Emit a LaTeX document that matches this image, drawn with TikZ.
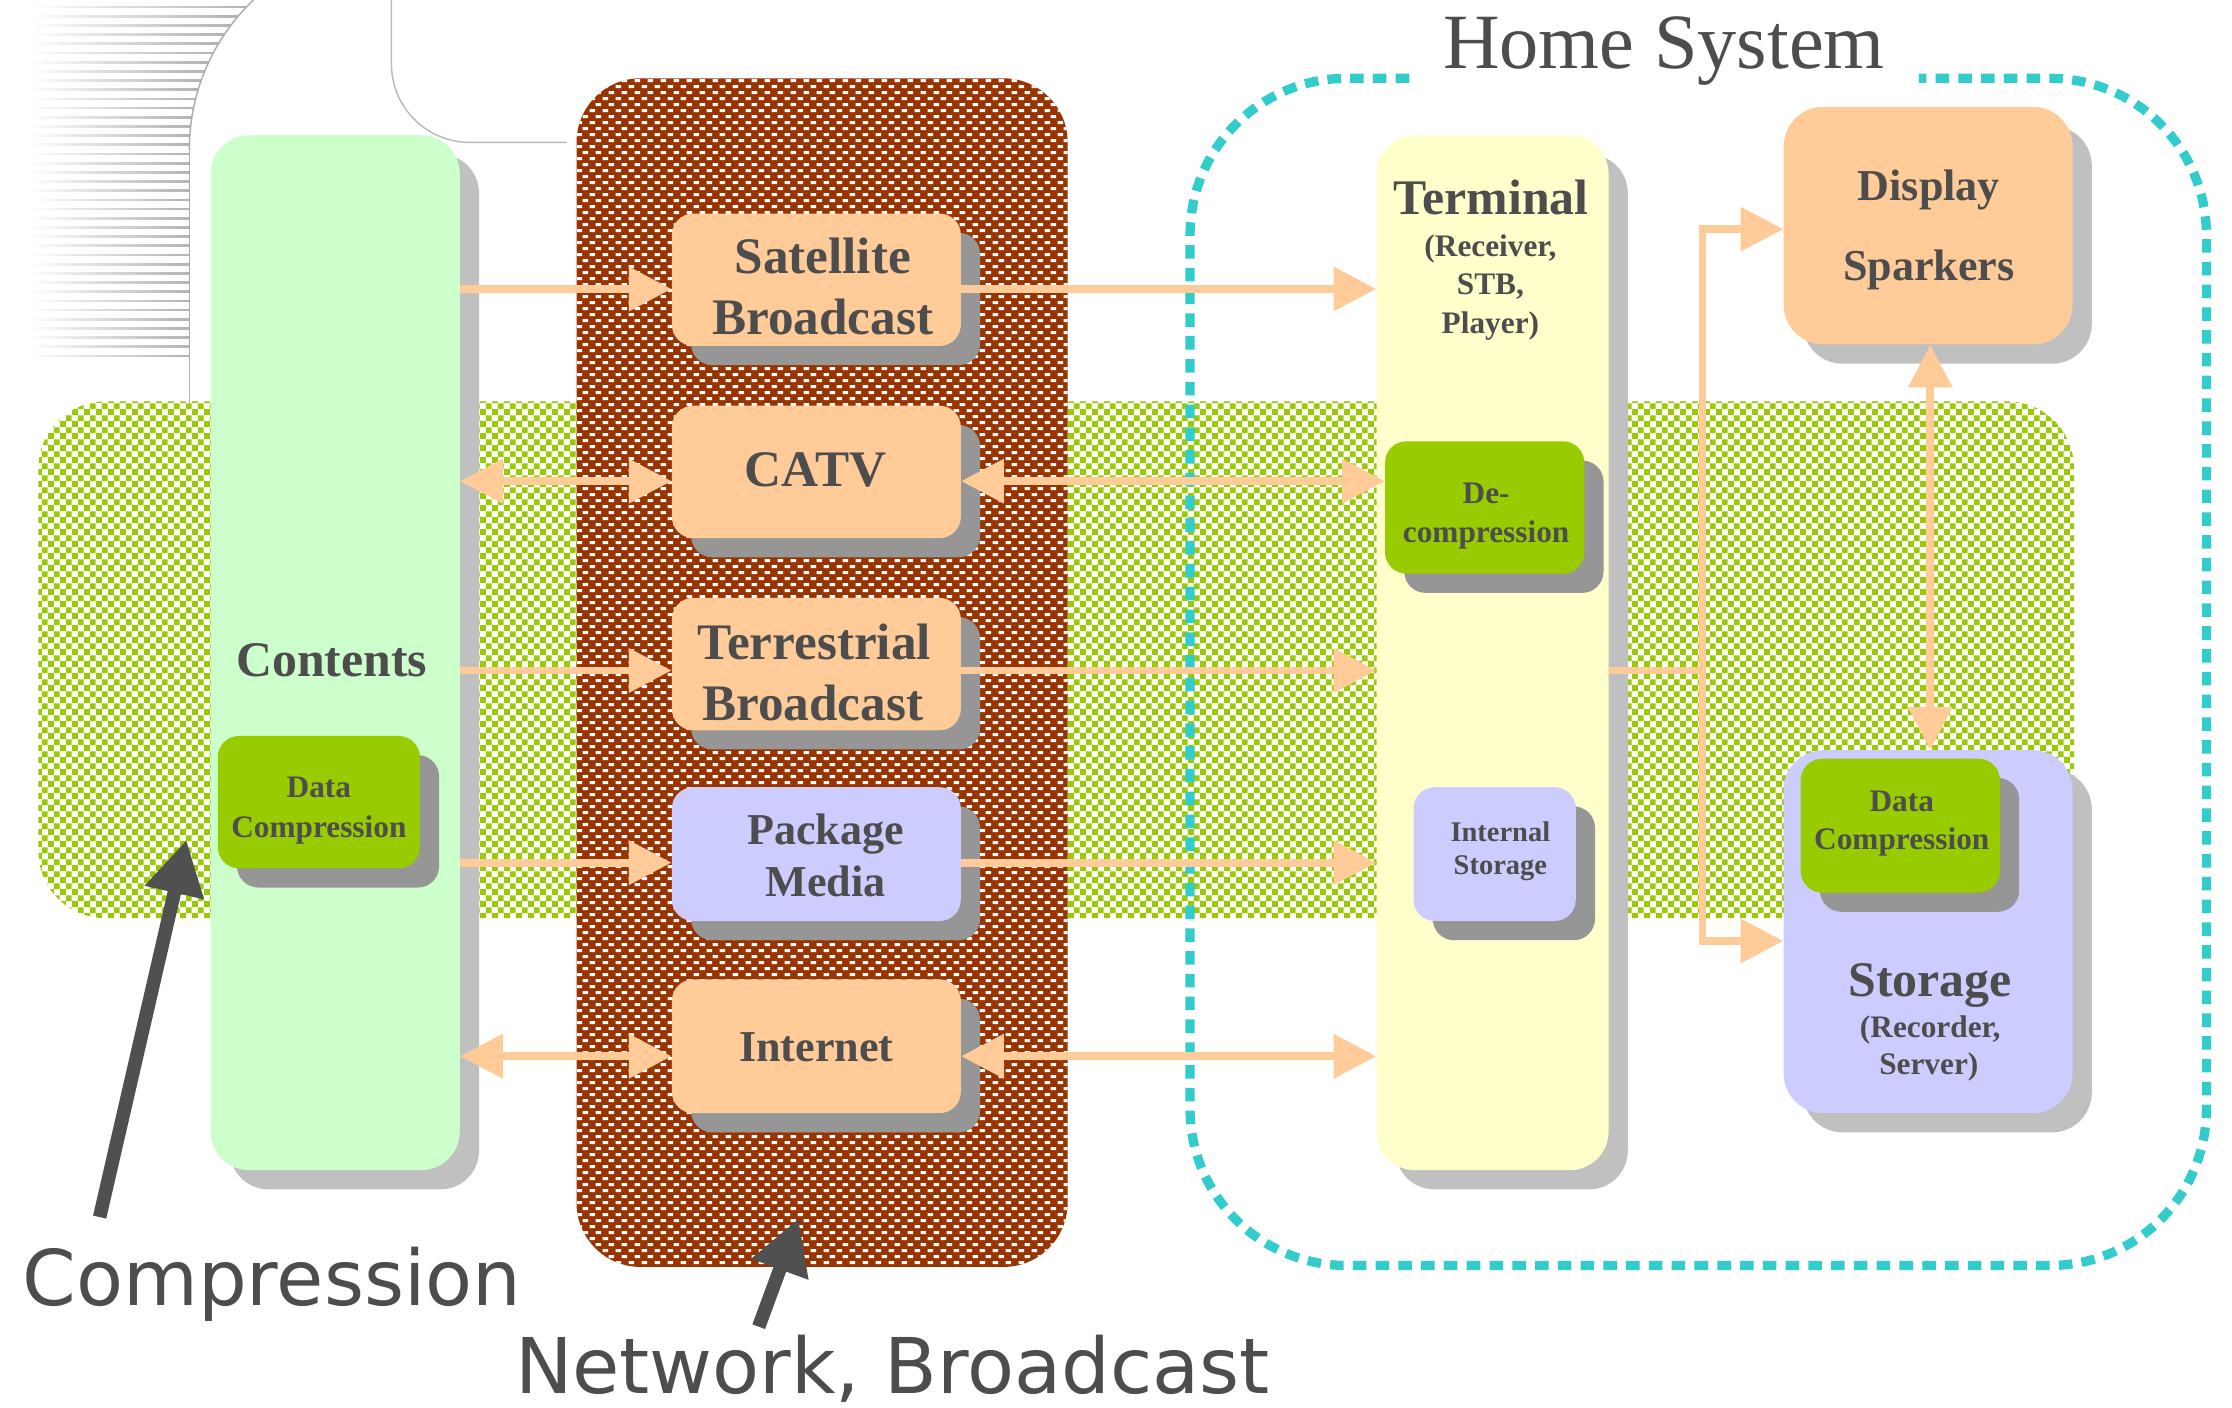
\documentclass[tikz,border=0pt]{standalone}
\usepackage{fontspec}
\setmainfont{Liberation Serif}
\newfontfamily\dejavu{DejaVu Sans}
\usetikzlibrary{arrows.meta,patterns,shadows}
\definecolor{orangebox}{HTML}{FFCC99}
\definecolor{lavbox}{HTML}{CCCCFF}
\definecolor{mintbox}{HTML}{CCFFCC}
\definecolor{creambox}{HTML}{FFFFCC}
\definecolor{limebox}{HTML}{99CC00}
\definecolor{brownbg}{HTML}{993300}
\definecolor{tealline}{HTML}{33CCCC}
\definecolor{txtgray}{HTML}{4D4D4D}
\definecolor{darkarrow}{HTML}{505050}
\definecolor{shadowlight}{HTML}{C0C0C0}
\definecolor{shadowdark}{HTML}{969696}
\pgfdeclarepatternformonly{whitedashes}{\pgfqpoint{0pt}{0pt}}{\pgfqpoint{8.8pt}{8.4pt}}{\pgfqpoint{8.8pt}{8.4pt}}{%
  \pgfpathrectangle{\pgfqpoint{0.4pt}{0.6pt}}{\pgfqpoint{4pt}{2.1pt}}%
  \pgfpathrectangle{\pgfqpoint{4.8pt}{4.8pt}}{\pgfqpoint{4pt}{2.1pt}}\pgfusepath{fill}}
\pgfdeclarepatternformonly{bigchecker}{\pgfqpoint{0pt}{0pt}}{\pgfqpoint{8.6pt}{8.6pt}}{\pgfqpoint{8.6pt}{8.6pt}}{%
  \pgfpathrectangle{\pgfqpoint{0pt}{0pt}}{\pgfqpoint{4.35pt}{4.35pt}}%
  \pgfpathrectangle{\pgfqpoint{4.3pt}{4.3pt}}{\pgfqpoint{4.35pt}{4.35pt}}\pgfusepath{fill}}
\newcommand\fntBig{\fontsize{36}{43}\selectfont\bfseries}
\newcommand\fntMid{\fontsize{31}{40}\selectfont\bfseries}
\newcommand\fntSub{\fontsize{22}{27}\selectfont\bfseries}
\newcommand\fntTiny{\fontsize{20}{24}\selectfont\bfseries}
\begin{document}
\begin{tikzpicture}[x=1pt,y=-1pt,
  bigbox/.style={rounded corners=27pt, inner sep=0pt, draw=none,
    drop shadow={shadow xshift=13.5pt, shadow yshift=-13.5pt, fill=shadowlight, opacity=1}},
  smallbox/.style={rounded corners=15pt, inner sep=0pt, draw=none,
    drop shadow={shadow xshift=13.5pt, shadow yshift=-13.5pt, fill=shadowdark, opacity=1}},
  txt/.style={text=txtgray, inner sep=0pt, anchor=base},
  oline/.style={draw=orangebox, line width=5.5pt},
  oarr/.style={oline, -{Triangle[length=30pt,width=30pt]}},
  oarrr/.style={oline, {Triangle[length=30pt,width=30pt]}-{Triangle[length=30pt,width=30pt]}},
  darr/.style={draw=darkarrow, line width=9.5pt, -{Triangle[length=38pt,width=40pt]}},
  frame/.style={draw=tealline, line width=6.5pt, dash pattern=on 9.5pt off 6.5pt, rounded corners=110pt}
]
\useasboundingbox (0,0) rectangle (1568,989);
\fill[white] (0,0) rectangle (1568,989);

% top-left decoration
\foreach \yy in {5,11.45,...,256} {
  \pgfmathsetmacro\xe{278-10*sqrt(210.25-(min(\yy,105)/10-10.5)*(min(\yy,105)/10-10.5))}
  \shade[left color=white, right color=gray!60] (20,\yy-0.6) rectangle (\xe,\yy+0.6);
}
\draw[gray!65, line width=1pt] plot[domain=0:46.4, samples=40] ({278-145*cos(\x)},{105-145*sin(\x)});
\draw[gray!65, line width=1pt] (133,105) -- (133,283);
\draw[gray!55, line width=1pt, rounded corners=55pt] (275,0) -- (275,100) -- (398,100);

% background regions
\node[pattern=bigchecker, pattern color=limebox, rounded corners=47pt, minimum width=1430pt, minimum height=363pt, inner sep=0pt] (band) at (742,463.5) {};
\node[fill=brownbg, rounded corners=45pt, minimum width=345pt, minimum height=835pt, inner sep=0pt,
  postaction={pattern=whitedashes, pattern color=white}] (netbg) at (577.5,472.5) {};

% home system frame
\draw[frame] (990,55) -- (836,55) -- (836,889) -- (1550,889) -- (1550,55) -- (1348,55);
\node[txt, font=\fontsize{55}{60}\selectfont] (home) at (1169,48) {Home System};

% contents column
\node[bigbox, fill=mintbox, minimum width=175pt, minimum height=727pt] (contents) at (235.5,458.5) {};
\node[txt, font=\fontsize{35}{40}\selectfont\bfseries] (contentsT) at (233,475) {Contents};
\node[smallbox, fill=limebox, minimum width=142pt, minimum height=93pt] (dcl) at (224,563.5) {};
\node[txt, font=\fntSub] (dclA) at (224,560) {Data};
\node[txt, font=\fntSub] (dclB) at (224,588) {Compression};

% network boxes
\node[smallbox, fill=orangebox, minimum width=203pt, minimum height=93pt] (sat) at (573.5,196.5) {};
\node[txt, font=\fntBig] (satA) at (578,192) {Satellite};
\node[txt, font=\fntBig] (satB) at (578,235) {Broadcast};
\node[smallbox, fill=orangebox, minimum width=203pt, minimum height=93pt] (catv) at (573.5,331.5) {};
\node[txt, font=\fntBig] (catvT) at (573,342) {CATV};
\node[smallbox, fill=orangebox, minimum width=203pt, minimum height=93pt] (terr) at (573.5,466.5) {};
\node[txt, font=\fntBig] (terrA) at (572,463) {Terrestrial};
\node[txt, font=\fntBig] (terrB) at (571,506) {Broadcast};
\node[smallbox, fill=lavbox, minimum width=203pt, minimum height=94pt] (pkg) at (573.5,600) {};
\node[txt, font=\fntMid] (pkgA) at (580,593) {Package};
\node[txt, font=\fntMid] (pkgB) at (580,630) {Media};
\node[smallbox, fill=orangebox, minimum width=203pt, minimum height=94pt] (inet) at (573.5,735) {};
\node[txt, font=\fntMid] (inetT) at (573.5,746) {Internet};

% terminal column
\node[bigbox, fill=creambox, minimum width=163pt, minimum height=727pt] (term) at (1048.5,458.5) {};
\node[txt, font=\fontsize{35}{40}\selectfont\bfseries] (termA) at (1047.5,151) {Terminal};
\node[txt, font=\fntSub] (termB) at (1047,180) {(Receiver,};
\node[txt, font=\fntSub] (termC) at (1047,207) {STB,};
\node[txt, font=\fntSub] (termD) at (1047,234) {Player)};
\node[smallbox, fill=limebox, minimum width=140pt, minimum height=93pt] (decomp) at (1043,356.5) {};
\node[txt, font=\fntSub] (decA) at (1044,354) {De-};
\node[txt, font=\fntSub] (decB) at (1044,381) {compression};
\node[smallbox, fill=lavbox, minimum width=114pt, minimum height=94pt] (intst) at (1050,600) {};
\node[txt, font=\fntTiny] (intA) at (1054,591) {Internal};
\node[txt, font=\fntTiny] (intB) at (1054,614) {Storage};

% display and storage
\node[bigbox, rounded corners=28pt, fill=orangebox, minimum width=203pt, minimum height=167pt] (disp) at (1354.5,158.5) {};
\node[txt, font=\fntMid] (dispA) at (1355,141) {Display};
\node[txt, font=\fntMid] (dispB) at (1355,197) {Sparkers};
\node[bigbox, rounded corners=28pt, fill=lavbox, minimum width=203pt, minimum height=255pt] (stor) at (1354.5,654.5) {};
\node[smallbox, fill=limebox, minimum width=140pt, minimum height=94pt] (dcr) at (1335,580) {};
\node[txt, font=\fntSub] (dcrA) at (1336,570) {Data};
\node[txt, font=\fntSub] (dcrB) at (1336,597) {Compression};
\node[txt, font=\fontsize{35}{40}\selectfont\bfseries] (storA) at (1356,700) {Storage};
\node[txt, font=\fntSub] (storB) at (1356,729) {(Recorder,};
\node[txt, font=\fntSub] (storC) at (1355,755) {Server)};

% arrow rows
\coordinate (row1) at (0,203);
\coordinate (row2) at (0,338);
\coordinate (row3) at (0,471);
\coordinate (row4) at (0,606);
\coordinate (row5) at (0,742);
\coordinate (rowD) at (0,161);
\coordinate (rowS) at (0,661);
\coordinate (split) at (1196,471);
\coordinate (colDS) at (1356,0);

\draw[oarr] (row1 -| contents.east) -- (row1 -| sat.west);
\draw[oarr] (row1 -| sat.east) -- (row1 -| term.west);
\draw[oarrr] (row2 -| contents.east) -- (row2 -| catv.west);
\draw[oarrr] (row2 -| catv.east) -- (row2 -| decomp.west);
\draw[oarr] (row3 -| contents.east) -- (row3 -| terr.west);
\draw[oarr] (row3 -| terr.east) -- (row3 -| term.west);
\draw[oarr] (row4 -| contents.east) -- (row4 -| pkg.west);
\draw[oarr] (row4 -| pkg.east) -- (row4 -| term.west);
\draw[oarrr] (row5 -| contents.east) -- (row5 -| inet.west);
\draw[oarrr] (row5 -| inet.east) -- (row5 -| term.west);
\draw[oline] (row3 -| term.east) -- (split);
\draw[oarr] (split) |- (rowD -| disp.west);
\draw[oarr] (split) |- (rowS -| stor.west);
\draw[oarrr] (colDS |- disp.south) -- (colDS |- stor.north);

% labels with dark arrows
\node[txt, font=\dejavu\fontsize{54}{60}\selectfont] (complbl) at (191,917) {Compression};
\node[txt, font=\dejavu\fontsize{54}{60}\selectfont] (netlbl) at (627,979) {Network, Broadcast};
\coordinate (ctail) at (70,855);
\coordinate (ctip) at (131,590);
\coordinate (ntail) at (533,932);
\coordinate (ntip) at (561,856);
\draw[darr] (ctail) -- (ctip);
\draw[darr] (ntail) -- (ntip);
\end{tikzpicture}
\end{document}
